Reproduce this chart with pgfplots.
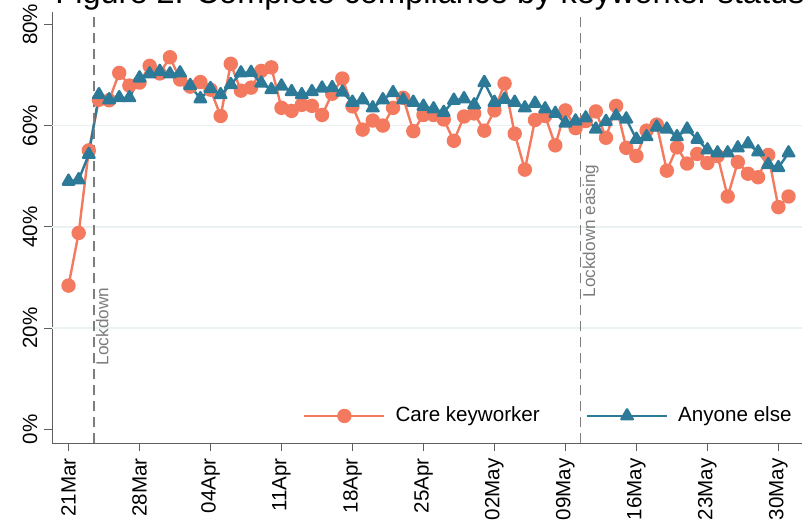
\documentclass[border=0pt]{standalone}
\usepackage{fontspec}
\setmainfont{Liberation Sans}
\usepackage{pgfplots}
\pgfplotsset{compat=1.18}
\definecolor{cko}{RGB}{243,122,95}
\definecolor{aeb}{RGB}{45,122,152}
\definecolor{gridc}{RGB}{233,241,243}
\definecolor{axc}{RGB}{95,95,95}
\definecolor{dashc}{RGB}{125,125,125}
\begin{document}
\begin{tikzpicture}
\begin{axis}[
  at={(0pt,0pt)}, anchor=south west,
  scale only axis, width=374.7pt, height=215.8pt,
  xmin=-1.6, xmax=72.3, ymin=-2.75, ymax=82.5,
  axis x line*=bottom, axis y line*=left,
  axis line style={draw=axc, line width=0.6pt},
  every tick/.style={draw=axc, line width=0.6pt},
  tick align=outside, major tick length=4pt,
  xtick={0,7,14,21,28,35,42,49,56,63,70},
  xticklabels={21Mar,28Mar,04Apr,11Apr,18Apr,25Apr,02May,09May,16May,23May,30May},
  ytick={0,20,40,60,80},
  yticklabels={0\%,20\%,40\%,60\%,80\%},
  xticklabel style={rotate=90, anchor=east, font=\fontsize{10.3}{12}\selectfont},
  yticklabel style={rotate=90, anchor=south, font=\fontsize{10.3}{12}\selectfont},
  extra y ticks={20,40,60}, extra y tick labels={},
  extra y tick style={grid=major},
  grid style={draw=gridc, line width=0.8pt},
  legend columns=2,
  legend style={draw=none, fill=none, at={(axis cs:23.1,2.65)}, anchor=west,
    inner sep=0pt, font=\fontsize{10.3}{12}\selectfont,
    /tikz/every even column/.append style={column sep=21pt},
    /tikz/every odd column/.append style={column sep=3pt}},
  legend image code/.code={\draw[mark repeat=2, mark phase=2] plot coordinates {(0pt,0pt) (20pt,0pt) (40pt,0pt)};},
]
\addplot[color=cko, line width=1.2pt, line join=round, mark=*, mark size=3pt, mark options={solid, fill=cko, draw=cko}] coordinates {
(0,28.4) (1,38.8) (2,55.1) (3,65.1) (4,65.0) (5,70.4) (6,67.9) (7,68.5) (8,71.8) (9,70.3)
(10,73.5) (11,69.1) (12,67.7) (13,68.6) (14,67.1) (15,61.9) (16,72.2) (17,66.9) (18,67.5) (19,70.8)
(20,71.5) (21,63.5) (22,62.9) (23,64.1) (24,63.9) (25,62.1) (26,66.3) (27,69.3) (28,63.8) (29,59.2)
(30,61.0) (31,60.0) (32,63.5) (33,65.5) (34,58.9) (35,62.1) (36,62.1) (37,61.2) (38,57.0) (39,61.8)
(40,62.4) (41,59.0) (42,63.0) (43,68.3) (44,58.4) (45,51.3) (46,61.1) (47,61.9) (48,56.1) (49,63.0)
(50,59.5) (51,60.9) (52,62.8) (53,57.6) (54,63.9) (55,55.6) (56,54.0) (57,59.0) (58,60.2) (59,51.1)
(60,55.7) (61,52.5) (62,54.4) (63,52.6) (64,54.0) (65,46.0) (66,52.8) (67,50.5) (68,49.8) (69,54.2)
(70,43.9) (71,46.0)
};
\addlegendentry{Care keyworker}
\addplot[color=aeb, line width=1.2pt, line join=round, mark=triangle*, mark size=3.3pt, mark options={solid, fill=aeb, draw=aeb}] coordinates {
(0,49.0) (1,49.3) (2,54.3) (3,66.1) (4,65.1) (5,65.5) (6,65.5) (7,69.4) (8,70.2) (9,70.7)
(10,70.2) (11,70.4) (12,67.9) (13,65.3) (14,67.3) (15,66.1) (16,68.1) (17,70.4) (18,70.5) (19,68.4)
(20,67.1) (21,67.8) (22,66.7) (23,66.1) (24,66.7) (25,67.4) (26,67.5) (27,66.6) (28,64.6) (29,65.1)
(30,63.5) (31,65.1) (32,66.5) (33,65.1) (34,64.6) (35,63.8) (36,63.3) (37,62.6) (38,65.0) (39,65.3)
(40,64.1) (41,68.5) (42,64.6) (43,65.2) (44,64.6) (45,63.5) (46,64.4) (47,63.3) (48,62.4) (49,60.5)
(50,60.9) (51,61.5) (52,59.3) (53,60.8) (54,61.9) (55,61.3) (56,57.3) (57,57.8) (58,59.7) (59,59.3)
(60,57.8) (61,59.3) (62,57.3) (63,55.2) (64,54.6) (65,54.6) (66,55.6) (67,56.4) (68,54.8) (69,52.3)
(70,51.7) (71,54.6)
};
\addlegendentry{Anyone else}
\draw[dashc, line width=0.7pt, dash pattern=on 5pt off 3pt] (axis cs:2.5,-2.75) -- (axis cs:2.5,82.5);
\draw[dashc, line width=0.7pt, dash pattern=on 5pt off 3pt] (axis cs:50.5,-2.75) -- (axis cs:50.5,82.5);
\node[rotate=90, anchor=north, inner sep=0.8pt, text=dashc, font=\fontsize{8.6}{10}\selectfont] at (axis cs:2.5,20.3) {Lockdown};
\node[rotate=90, anchor=north, inner sep=0.8pt, text=dashc, font=\fontsize{8.6}{10}\selectfont] at (axis cs:50.5,39.2) {Lockdown easing};
\end{axis}
\node[anchor=base, font=\fontsize{16.25}{19}\selectfont] at (188.85pt,219.65pt) {Figure 2: Complete compliance by keyworker status};
\pgfresetboundingbox
\useasboundingbox (-26.15pt,-39.35pt) rectangle (379.85pt,221.65pt);
\end{tikzpicture}
\end{document}
